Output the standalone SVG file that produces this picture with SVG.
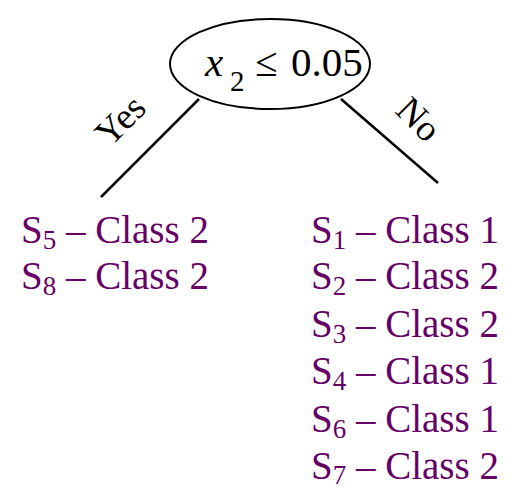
<svg xmlns="http://www.w3.org/2000/svg" width="519" height="490" viewBox="0 0 519 490">
<style>
.t{font-family:"Liberation Serif","Times New Roman",serif;fill:#000}
.leaf{font-family:"Liberation Serif","Times New Roman",serif;font-size:39px;fill:#660066}
.sub{font-size:27px}
.edge{stroke:#000;stroke-width:2.5;fill:none}
</style>
<rect width="519" height="490" fill="#fff"/>
<g id="connectors">
<line class="edge" x1="199" y1="99" x2="101" y2="197"/>
<line class="edge" x1="341" y1="99" x2="438" y2="183"/>
<text class="t" font-size="37" text-anchor="middle" transform="translate(129,129) rotate(-45)">Yes</text>
<text class="t" font-size="37" text-anchor="middle" transform="translate(410,128) rotate(45)">No</text>
</g>
<g id="root">
<ellipse cx="270" cy="64" rx="100" ry="45" fill="#fff" stroke="#000" stroke-width="2"/>
<text class="t" font-size="41" y="76"><tspan x="205" font-style="italic">x</tspan><tspan x="230" y="91" font-size="29">2</tspan><tspan x="255" y="76">≤</tspan><tspan x="291">0.05</tspan></text>
</g>
<g id="leaf-yes">
<text class="leaf" x="21" y="243">S<tspan class="sub" dy="6">5</tspan><tspan dy="-6"> – Class 2</tspan></text>
<text class="leaf" x="21" y="289">S<tspan class="sub" dy="6">8</tspan><tspan dy="-6"> – Class 2</tspan></text>
</g>
<g id="leaf-no">
<text class="leaf" x="311" y="243">S<tspan class="sub" dy="6">1</tspan><tspan dy="-6"> – Class 1</tspan></text>
<text class="leaf" x="311" y="289">S<tspan class="sub" dy="6">2</tspan><tspan dy="-6"> – Class 2</tspan></text>
<text class="leaf" x="311" y="337">S<tspan class="sub" dy="6">3</tspan><tspan dy="-6"> – Class 2</tspan></text>
<text class="leaf" x="311" y="384">S<tspan class="sub" dy="6">4</tspan><tspan dy="-6"> – Class 1</tspan></text>
<text class="leaf" x="311" y="432">S<tspan class="sub" dy="6">6</tspan><tspan dy="-6"> – Class 1</tspan></text>
<text class="leaf" x="311" y="479">S<tspan class="sub" dy="5">7</tspan><tspan dy="-5"> – Class 2</tspan></text>
</g>
</svg>
